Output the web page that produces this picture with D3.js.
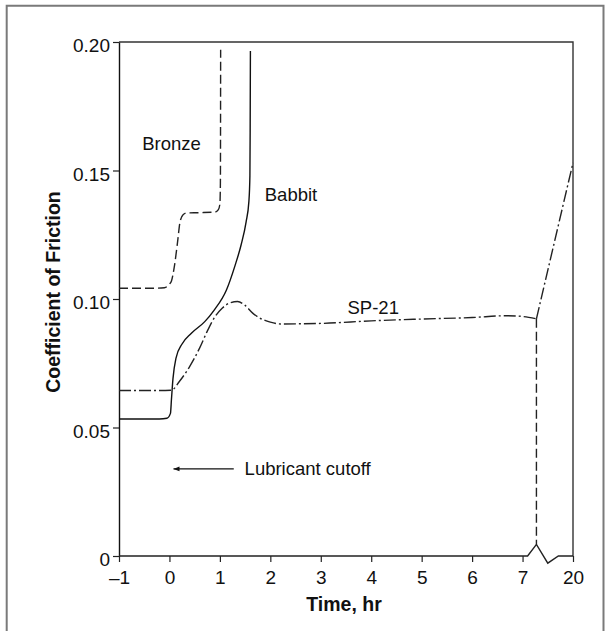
<!DOCTYPE html>
<html>
<head>
<meta charset="utf-8">
<script src="https://cdn.jsdelivr.net/npm/d3@7"></script>
<style>
  body { margin: 0; background: #fff; }
  svg { display: block; font-family: "Liberation Sans", Arial, sans-serif; }
</style>
</head>
<body>
<div id="chart"></div>
<script>
// x is a position index: -1..7 are hours, 8 stands for the "20" tick after the axis break
const xTicks = [-1, 0, 1, 2, 3, 4, 5, 6, 7, 8];
const xTickLabels = ["\u20131", "0", "1", "2", "3", "4", "5", "6", "7", "20"];
const yTicks = [0, 0.05, 0.10, 0.15, 0.20];
const yTickLabels = ["0", "0.05", "0.10", "0.15", "0.20"];

const bronze = [
  [-1, 0.1042], [-0.3, 0.1042], [-0.1, 0.1044], [0.0, 0.1058], [0.04, 0.107],
  [0.10, 0.113], [0.16, 0.122], [0.21, 0.130], [0.27, 0.1328], [0.35, 0.1335],
  [0.6, 0.1336], [0.9, 0.1338], [0.97, 0.1348], [1.0, 0.137], [1.01, 0.145], [1.015, 0.197]
];

const babbit = [
  [-1, 0.0533], [-0.2, 0.0533], [-0.05, 0.0536], [0.02, 0.0555], [0.04, 0.061],
  [0.07, 0.069], [0.13, 0.077], [0.25, 0.0825], [0.43, 0.0866], [0.7, 0.0912],
  [0.88, 0.0955], [1.13, 0.1035], [1.3, 0.113], [1.42, 0.121], [1.52, 0.130],
  [1.575, 0.138], [1.595, 0.148], [1.60, 0.165], [1.605, 0.1965]
];

const sp21 = [
  [-1, 0.0644], [-0.2, 0.0644], [0.04, 0.0645], [0.2, 0.068], [0.4, 0.0737],
  [0.6, 0.081], [0.75, 0.0875], [0.9, 0.093], [1.05, 0.0965], [1.2, 0.0985],
  [1.35, 0.099], [1.5, 0.0975], [1.65, 0.0945], [1.8, 0.0925], [2.0, 0.091],
  [2.2, 0.0903], [3.0, 0.0905], [4.0, 0.0915], [5.0, 0.0922], [6.0, 0.0928],
  [6.7, 0.0935], [7.0, 0.0932], [7.275, 0.0923]
];
const sp21Tail = [[7.275, 0.0923], [8, 0.153]];
const sp21Drop = [[7.275, 0.0923], [7.275, 0.0045]];

// bottom axis with the break zigzag
const axisLine = [[-1, 0], [7.1, 0], [7.275, 0.0045], [7.5, -0.0028], [7.71, 0], [8, 0]];

const labels = [
  { text: "Bronze", x: -0.54, y: 0.158 },
  { text: "Babbit", x: 1.89, y: 0.1381 },
  { text: "SP-21", x: 3.53, y: 0.0943 },
  { text: "Lubricant cutoff", x: 1.49, y: 0.0315 }
];
const arrow = [[1.275, 0.0339], [0.08, 0.0339]];

const width = 611, height = 631;
const margin = { top: 42, right: 38, bottom: 75, left: 119 };
const innerW = width - margin.left - margin.right;
const innerH = height - margin.top - margin.bottom;

const svg = d3.select("#chart").append("svg")
  .attr("width", width)
  .attr("height", height);

// outer frame
svg.append("path")
  .attr("d", `M6.7,${height} V5.7 H603.5 V${height}`)
  .attr("fill", "none")
  .attr("stroke", "#7a7a7a")
  .attr("stroke-width", 2);

const g = svg.append("g")
  .attr("transform", `translate(${margin.left},${margin.top})`);

const x = d3.scaleLinear().domain([-1, 8]).range([0, innerW]);
const y = d3.scaleLinear().domain([0, 0.2]).range([innerH, 0]);

// top and right edges of the plot box
g.append("path")
  .attr("d", `M${x(-1)},${y(0.2)} H${x(8)} V${y(0)}`)
  .attr("fill", "none")
  .attr("stroke", "#333")
  .attr("stroke-width", 1.4);

const xAxis = g.append("g")
  .attr("transform", `translate(0,${innerH})`)
  .call(d3.axisBottom(x).tickValues(xTicks)
    .tickFormat((d, i) => xTickLabels[i])
    .tickSize(6).tickSizeOuter(0).tickPadding(9));
xAxis.select(".domain").remove();

const yAxis = g.append("g")
  .call(d3.axisLeft(y).tickValues(yTicks)
    .tickFormat((d, i) => yTickLabels[i])
    .tickSize(6).tickSizeOuter(0).tickPadding(3));
yAxis.select(".domain").attr("stroke", "#111").attr("stroke-width", 1.4);
yAxis.selectAll("text").attr("dy", "0.5em");

g.selectAll(".tick line").attr("stroke", "#222").attr("stroke-width", 1.2);
g.selectAll(".tick text")
  .attr("font-size", 19)
  .attr("font-family", "Liberation Sans, Arial, sans-serif")
  .attr("fill", "#111");

const straight = d3.line().x(d => x(d[0])).y(d => y(d[1]));
const smooth = d3.line().x(d => x(d[0])).y(d => y(d[1])).curve(d3.curveMonotoneX);

g.append("path")
  .datum(axisLine)
  .attr("fill", "none")
  .attr("stroke", "#222")
  .attr("stroke-width", 1.4)
  .attr("stroke-linejoin", "miter")
  .attr("d", straight);

// curves
g.append("path")
  .datum(bronze)
  .attr("fill", "none")
  .attr("stroke", "#222")
  .attr("stroke-width", 1.4)
  .attr("stroke-dasharray", "9,4")
  .attr("d", smooth);

g.append("path")
  .datum(babbit)
  .attr("fill", "none")
  .attr("stroke", "#111")
  .attr("stroke-width", 1.4)
  .attr("d", smooth);

g.append("path")
  .datum(sp21)
  .attr("fill", "none")
  .attr("stroke", "#222")
  .attr("stroke-width", 1.4)
  .attr("stroke-dasharray", "12,3,2,3")
  .attr("d", smooth);

g.append("path")
  .datum(sp21Tail)
  .attr("fill", "none")
  .attr("stroke", "#222")
  .attr("stroke-width", 1.4)
  .attr("stroke-dasharray", "12,3,2,3")
  .attr("d", straight);

g.append("path")
  .datum(sp21Drop)
  .attr("fill", "none")
  .attr("stroke", "#222")
  .attr("stroke-width", 1.4)
  .attr("stroke-dasharray", "9,4")
  .attr("d", straight);

// annotations
g.selectAll(".lbl")
  .data(labels)
  .enter()
  .append("text")
  .attr("class", "lbl")
  .attr("x", d => x(d.x))
  .attr("y", d => y(d.y))
  .attr("font-size", 18.5)
  .attr("fill", "#111")
  .text(d => d.text);

svg.append("defs").append("marker")
  .attr("id", "head")
  .attr("viewBox", "0 0 10 10")
  .attr("refX", 10).attr("refY", 5)
  .attr("markerWidth", 9).attr("markerHeight", 6)
  .attr("orient", "auto")
  .attr("markerUnits", "userSpaceOnUse")
  .append("path")
  .attr("d", "M0,1 L10,5 L0,9 Z")
  .attr("fill", "#111");

g.append("path")
  .datum(arrow)
  .attr("fill", "none")
  .attr("stroke", "#111")
  .attr("stroke-width", 1.2)
  .attr("marker-end", "url(#head)")
  .attr("d", straight);

// axis titles
g.append("text")
  .attr("x", innerW / 2 - 2)
  .attr("y", innerH + 55)
  .attr("text-anchor", "middle")
  .attr("font-size", 19.5)
  .attr("font-weight", "bold")
  .attr("fill", "#111")
  .text("Time, hr");

g.append("text")
  .attr("transform", "rotate(-90)")
  .attr("x", -(292 - margin.top))
  .attr("y", 53 - margin.left + 7)
  .attr("text-anchor", "middle")
  .attr("font-size", 19.5)
  .attr("font-weight", "bold")
  .attr("fill", "#111")
  .text("Coefficient of Friction");
</script>
</body>
</html>
